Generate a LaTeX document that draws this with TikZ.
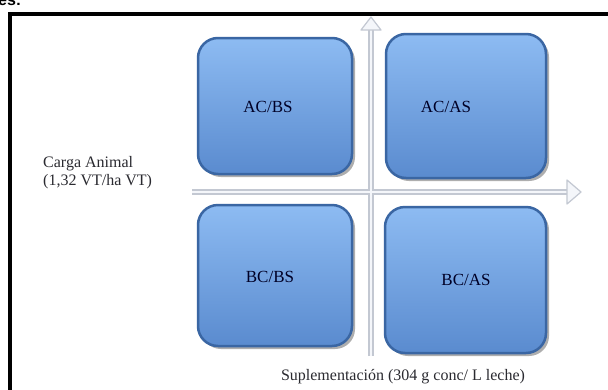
\documentclass[tikz,border=0pt]{standalone}
\usepackage{fontspec}
\setmainfont{Liberation Serif}
\newfontfamily\headfont{Liberation Sans}
\usetikzlibrary{shadows}
\definecolor{boxtop}{HTML}{8DBBF2}
\definecolor{boxbot}{HTML}{5A8BCF}
\definecolor{boxedge}{HTML}{3A66A3}
\definecolor{axisouter}{HTML}{C3C8D2}
\definecolor{axisinner}{HTML}{F4F6FA}
\definecolor{labeltext}{HTML}{2A2A30}
\tikzset{
  quadbox/.style={rounded corners=20pt, top color=boxtop, bottom color=boxbot,
    draw=boxedge, line width=2.5pt,
    drop shadow={shadow xshift=3pt, shadow yshift=-3pt, opacity=0.45, fill=black!70}},
  quadlabel/.style={font=\fontsize{17}{19}\selectfont, text=black!85!blue},
  sidelabel/.style={font=\fontsize{16}{18}\selectfont, text=labeltext, align=left},
  axisshaft/.style={line width=6pt, draw=axisouter},
  axiscore/.style={line width=2.5pt, draw=axisinner},
  axishead/.style={fill=axisinner, draw=axisouter, line width=1.2pt, line join=round},
}
\begin{document}
\begin{tikzpicture}[x=1pt, y=-1pt]
\useasboundingbox (0,0) rectangle (608,389);
\fill[white] (0,0) rectangle (608,389);
% fragment of heading above the frame
\node[anchor=base west, inner sep=0pt, font=\headfont\bfseries\fontsize{16}{18}\selectfont] (head) at (-2,5) {es:};
% frame
\draw[line width=4pt, black] (10,14) rectangle (640,420);

% boxes
\path[quadbox] (198,38) rectangle (352,174);
\path[quadbox] (386,34) rectangle (546,178);
\path[quadbox] (198,205) rectangle (352,346);
\path[quadbox] (385,207) rectangle (546,353);
\node[quadlabel] (acbs) at (268,107) {AC/BS};
\node[quadlabel] (acas) at (446,107) {AC/AS};
\node[quadlabel] (bcbs) at (270,277) {BC/BS};
\node[quadlabel] (bcas) at (466,280) {BC/AS};

% axes
\coordinate (vbot) at (371,356);
\coordinate (vtop) at (371,30);
\coordinate (vtip) at (371,17);
\coordinate (hleft) at (192,192);
\coordinate (hright) at (567,192);
\coordinate (htip) at (581,192);
\draw[axisshaft] (vbot) -- (vtop);
\draw[axisshaft] (hleft) -- (hright);
\draw[axiscore] (vbot) -- (vtop);
\draw[axiscore] (hleft) -- (hright);
\filldraw[axishead] (vtip) -- ([xshift=-10pt]vtop) -- ([xshift=10pt]vtop) -- cycle;
\filldraw[axishead] (htip) -- ([yshift=12pt]hright) -- ([yshift=-12pt]hright) -- cycle;

% axis labels
\node[sidelabel, anchor=base west, inner sep=0pt] (carga) at (43,185) {Carga Animal\\(1,32 VT/ha VT)};
\node[sidelabel, anchor=base, inner sep=0pt] (supl) at (403,380) {Suplementación (304 g conc/ L leche)};
\end{tikzpicture}
\end{document}
